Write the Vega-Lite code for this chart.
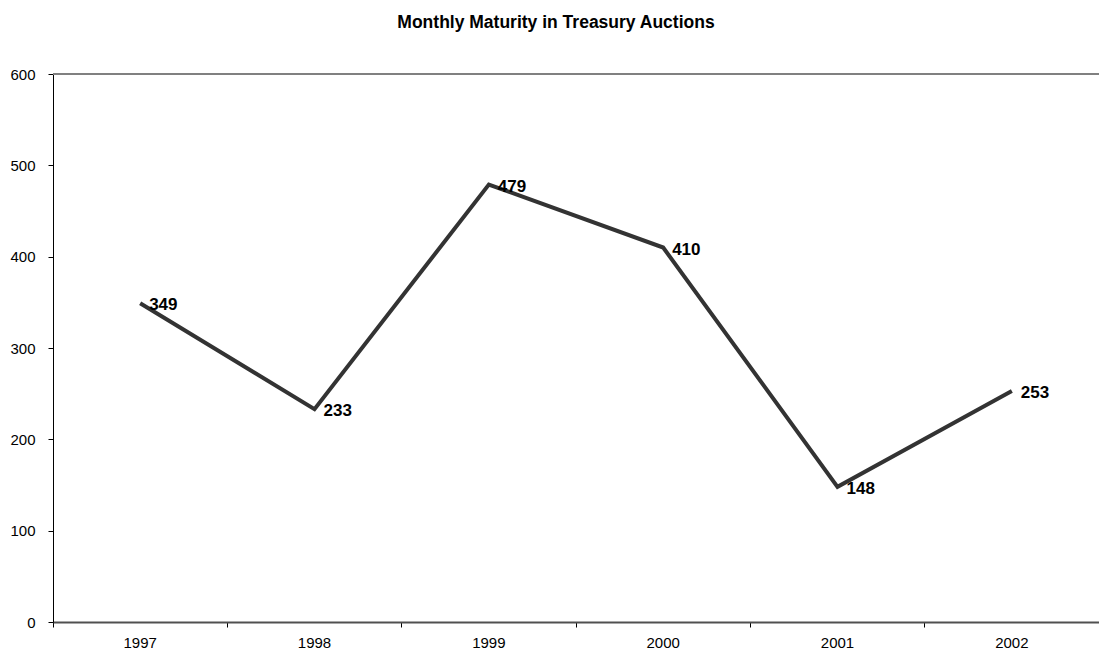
{
  "$schema": "https://vega.github.io/schema/vega-lite/v6.json",
  "width": 1046,
  "height": 548,
  "autosize": "none",
  "padding": {"left": 53, "top": 74, "right": 0, "bottom": 31},
  "background": "white",
  "title": {
    "text": "Monthly Maturity in Treasury Auctions",
    "font": "Liberation Sans",
    "fontSize": 17.5,
    "fontWeight": "bold",
    "color": "black",
    "anchor": "middle",
    "dx": -20,
    "offset": 36
  },
  "data": {
    "values": [
      {"year": "1997", "value": 349},
      {"year": "1998", "value": 233},
      {"year": "1999", "value": 479},
      {"year": "2000", "value": 410},
      {"year": "2001", "value": 148},
      {"year": "2002", "value": 253}
    ]
  },
  "config": {
    "view": {"stroke": null},
    "axis": {"grid": false}
  },
  "layer": [
    {
      "mark": {"type": "rule", "color": "#808080", "strokeWidth": 2},
      "encoding": {"y": {"datum": 600, "type": "quantitative"}}
    },
    {
      "mark": {"type": "line", "color": "#333333", "strokeWidth": 4},
      "encoding": {
        "x": {
          "field": "year", "type": "ordinal",
          "scale": {"type": "band", "paddingInner": 0, "paddingOuter": 0},
          "axis": {"title": null, "labelAngle": 0, "bandPosition": 0, "domainColor": "#505050", "domainWidth": 2, "tickColor": "black", "tickSize": 5, "labelPadding": 8, "labelAlign": "center", "labelFont": "Liberation Sans", "labelFontSize": 15, "labelColor": "black"}
        },
        "y": {
          "field": "value", "type": "quantitative",
          "scale": {"domain": [0, 600], "nice": false},
          "axis": {"title": null, "values": [0, 100, 200, 300, 400, 500, 600], "domainColor": "black", "tickColor": "black", "tickSize": 5, "labelPadding": 13, "labelFont": "Liberation Sans", "labelFontSize": 15, "labelColor": "black"}
        }
      }
    },
    {
      "mark": {"type": "text", "align": "left", "baseline": "middle", "dx": 9, "dy": 2, "font": "Liberation Sans", "fontSize": 17, "fontWeight": "bold", "color": "black"},
      "encoding": {
        "x": {"field": "year", "type": "ordinal"},
        "y": {"field": "value", "type": "quantitative"},
        "text": {"field": "value", "type": "quantitative"}
      }
    }
  ]
}
